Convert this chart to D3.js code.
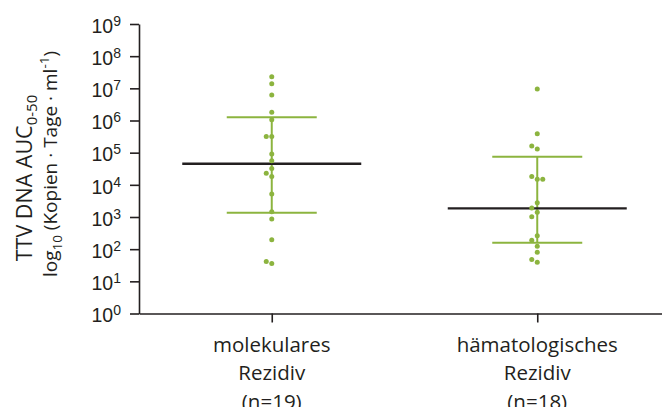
<!DOCTYPE html>
<html>
<head>
<meta charset="utf-8">
<script src="https://cdn.jsdelivr.net/npm/d3@7"></script>
<style>
  body { margin: 0; background: #fff; }
  svg { font-family: 'Open Sans', sans-serif; }
</style>
</head>
<body>
<svg class="dot-chart"></svg>
<script>
// groups and their x labels
const categories = ['mol', 'haem'];
const categoryLabels = [
    ['molekulares', 'Rezidiv', '(n=19)'],
    ['hämatologisches', 'Rezidiv', '(n=18)']
];

// single values (copies · days · ml-1)
const molValues = [2.3e7, 1.4e7, 6.2e6, 1.8e6, 1.05e6, 3.2e5, 3.2e5, 9.1e4, 5.6e4, 3.2e4,
    1.8e4, 2.3e4, 5200, 1450, 870, 195, 36, 41];
const haemValues = [9.5e6, 3.9e5, 1.3e5, 1.6e5, 1.5e4, 1.8e4, 1.5e4, 2750, 1400, 1900,
    1020, 260, 190, 123, 80, 39, 48];

// mean and spread per group
const means = [4.5e4, 1860];
const spreadLow = [1350, 158];
const spreadHigh = [1.26e6, 7.5e4];

const yTicks = [1, 10, 1e2, 1e3, 1e4, 1e5, 1e6, 1e7, 1e8, 1e9];

const svgWidth = 662;
const svgHeight = 407;
const green = '#8cb43f';
const dark = '#231f20';

const svg = d3.select('.dot-chart')
    .attr('width', svgWidth)
    .attr('height', svgHeight);

const x = d3.scalePoint()
    .domain(categories)
    .range([139, 670])
    .padding(0.5);
const y = d3.scaleLog()
    .domain([1, 1e9])
    .range([313.5, 24]);

// y axis
const yAxis = svg.append('g')
    .attr('transform', 'translate(139, 0)')
    .call(d3.axisLeft(y).tickValues(yTicks).tickSize(9).tickSizeOuter(0).tickPadding(9));
yAxis.select('.domain').attr('stroke', dark).attr('stroke-width', 1.6);
yAxis.selectAll('.tick line').attr('stroke', dark).attr('stroke-width', 1.6);
yAxis.selectAll('.tick text')
    .attr('fill', dark)
    .style('font-size', '19.5px')
    .attr('dy', '0.42em')
    .each(function (d) {
        const t = d3.select(this).text('');
        t.append('tspan').text('10');
        t.append('tspan')
            .attr('dy', '-0.5em')
            .style('font-size', '14px')
            .text(Math.round(Math.log10(d)));
    });

// x axis
const xAxis = svg.append('g')
    .attr('transform', 'translate(0, 313.5)')
    .call(d3.axisBottom(x).tickSize(9).tickSizeOuter(0).tickFormat(''));
xAxis.select('.domain').attr('stroke', dark).attr('stroke-width', 1.6);
xAxis.selectAll('.tick line').attr('stroke', dark).attr('stroke-width', 1.6);

categories.forEach((c, i) => {
    const lbl = svg.append('text')
        .attr('x', x(c))
        .attr('y', 351.5)
        .attr('text-anchor', 'middle')
        .attr('fill', dark)
        .style('font-size', '20.5px');
    categoryLabels[i].forEach((line, j) => {
        lbl.append('tspan')
            .attr('x', x(c))
            .attr('dy', j === 0 ? 0 : 28.5)
            .text(line);
    });
});

// y title, two lines
const title = svg.append('g')
    .attr('transform', 'rotate(-90)')
    .attr('fill', dark)
    .attr('text-anchor', 'middle');
const t1 = title.append('text').attr('x', -178).attr('y', 32).style('font-size', '21.5px');
t1.append('tspan').text('TTV DNA AUC');
t1.append('tspan').attr('dy', 5).style('font-size', '15px').text('0-50');
const t2 = title.append('text').attr('x', -164).attr('y', 57).style('font-size', '19px');
t2.append('tspan').text('log');
t2.append('tspan').attr('dy', 5).style('font-size', '13.5px').text('10');
t2.append('tspan').attr('dy', -5).text(' (Kopien · Tage · ml');
t2.append('tspan').attr('dy', -8).style('font-size', '13.5px').text('-1');
t2.append('tspan').attr('dy', 8).text(')');

// spread bars and mean lines
const groups = categories.map((c, i) => ({
    cat: c, mean: means[i], low: spreadLow[i], high: spreadHigh[i]
}));

const bars = svg.append('g').attr('stroke', green).attr('stroke-width', 2);
bars.selectAll('.vline').data(groups).join('line')
    .attr('x1', d => x(d.cat)).attr('x2', d => x(d.cat))
    .attr('y1', d => y(d.low)).attr('y2', d => y(d.high));
bars.selectAll('.cap-hi').data(groups).join('line')
    .attr('x1', d => x(d.cat) - 45).attr('x2', d => x(d.cat) + 45)
    .attr('y1', d => y(d.high)).attr('y2', d => y(d.high));
svg.append('g').attr('stroke', green).attr('stroke-width', 2)
    .selectAll('line').data(groups).join('line')
    .attr('x1', d => x(d.cat) - 45).attr('x2', d => x(d.cat) + 45)
    .attr('y1', d => y(d.low)).attr('y2', d => y(d.low));

svg.append('g').attr('stroke', dark).attr('stroke-width', 2.4)
    .selectAll('line').data(groups).join('line')
    .attr('x1', d => x(d.cat) - 89.5).attr('x2', d => x(d.cat) + 89.5)
    .attr('y1', d => y(d.mean)).attr('y2', d => y(d.mean));

// dots, nudged sideways where they would overlap
const swarm = (values, cat) => {
    const placed = [];
    values.forEach(v => {
        const py = y(v);
        const off = [0, -5.5, 5.5].find(o =>
            !placed.some(p => p.off === o && Math.abs(p.py - py) < 4.6));
        placed.push({ v: v, py: py, off: off === undefined ? 0 : off, cat: cat });
    });
    return placed;
};
const dots = swarm(molValues, 'mol').concat(swarm(haemValues, 'haem'));

svg.append('g')
    .selectAll('circle').data(dots).join('circle')
    .attr('cx', d => x(d.cat) + d.off)
    .attr('cy', d => d.py)
    .attr('r', 2.5)
    .attr('fill', green);
</script>
</body>
</html>
